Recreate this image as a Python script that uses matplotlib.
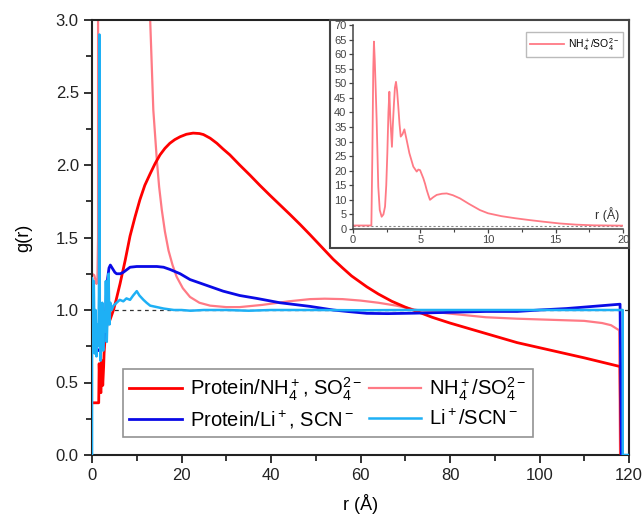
import matplotlib
matplotlib.use("Agg")
import matplotlib.pyplot as plt
from matplotlib.patches import Rectangle

plt.rcParams['font.family'] = ['Liberation Sans', 'DejaVu Sans']
plt.rcParams['mathtext.fontset'] = 'custom'
plt.rcParams['mathtext.rm'] = 'Liberation Sans'
plt.rcParams['mathtext.it'] = 'Liberation Sans:italic'
plt.rcParams['mathtext.bf'] = 'Liberation Sans:bold'

# ---- main panel data ----
red_r = [0.3, 1.5, 1.6, 1.8, 2.0, 2.2, 2.4, 2.6, 2.7, 3.0, 3.5, 4.0, 4.8, 5.4, 6.26, 7.4, 8.5,
         9.6, 10.7, 11.8, 13.0, 14.1, 15.2, 16.3, 17.4, 18.5, 19.7, 21.1, 22.6, 24.0, 24.9, 26.4,
         27.9, 29.3, 30.8, 33.0, 35.3, 37.5, 39.8, 42.0, 44.2, 46.5, 48.7, 51.3, 53.9, 56.0,
         58.0, 61.4, 64, 67, 70, 72.6, 76, 80, 85, 90, 95, 100, 105, 110, 114, 118, 118.2]
red_g = [0.36, 0.36, 0.63, 0.45, 0.43, 0.65, 0.48, 0.61, 0.70, 0.84, 0.92, 0.93, 1.00, 1.07, 1.18,
         1.34, 1.51, 1.64, 1.76, 1.86, 1.94, 2.01, 2.07, 2.115, 2.15, 2.175, 2.195, 2.212, 2.22,
         2.217, 2.21, 2.185, 2.15, 2.11, 2.07, 2.0, 1.93, 1.86, 1.79, 1.725, 1.66, 1.59, 1.52,
         1.435, 1.35, 1.29, 1.235, 1.16, 1.11, 1.06, 1.02, 0.99, 0.95, 0.91, 0.865, 0.82, 0.775,
         0.74, 0.705, 0.67, 0.64, 0.61, 0.0]

pink_r = [0.0, 0.5, 1.0, 1.2, 1.35, 1.6, 2.1, 2.7, 3.1, 5, 7, 10, 12, 13.0, 13.7, 14.5, 15.0,
          15.6, 16.3, 17.1, 18.0, 18.9, 20.3, 21.9, 24.0, 26.4, 30, 33, 38, 44, 48.7, 52, 56,
          60, 64, 68, 72.6, 80, 88, 95, 100, 105, 110, 114, 116, 117.8, 118.0]
pink_g = [1.25, 1.24, 1.18, 1.2, 1.5, 65, 4, 47, 50, 20, 12, 5.5, 3.8, 3.0, 2.38, 2.03, 1.85,
          1.69, 1.54, 1.41, 1.31, 1.23, 1.15, 1.09, 1.05, 1.03, 1.02, 1.02, 1.035, 1.06, 1.075,
          1.078, 1.075, 1.065, 1.05, 1.03, 1.0, 0.975, 0.95, 0.94, 0.935, 0.93, 0.925, 0.91,
          0.895, 0.86, 0.0]

blue_r = [0.0, 0.5, 1.0, 1.5, 2.0, 2.5, 2.9, 3.2, 3.5, 3.8, 4.1, 4.5, 5.1, 5.5, 6.3, 7.0, 8.5,
          10, 12, 14.5, 16, 17.4, 19.7, 21.9, 25.6, 29.3, 33, 36.8, 42, 48.7, 53.9, 57, 61.4, 66,
          72, 80, 88, 95, 100, 106, 112, 118, 118.3]
blue_g = [0.72, 0.71, 0.73, 0.72, 0.74, 0.75, 0.85, 1.10, 1.22, 1.29, 1.31, 1.29, 1.26, 1.25,
          1.25, 1.26, 1.295, 1.30, 1.30, 1.30, 1.295, 1.28, 1.25, 1.21, 1.17, 1.13, 1.10, 1.08,
          1.05, 1.025, 1.0, 0.99, 0.977, 0.975, 0.978, 0.984, 0.99, 0.99, 1.0, 1.01, 1.025,
          1.04, 0.0]

cyan_r = [0.0, 0.0, 0.2, 0.4, 0.6, 0.8, 1.0, 1.2, 1.4, 1.55, 1.65, 1.75, 1.9, 2.1, 2.3, 2.5, 2.7,
          2.9, 3.1, 3.3, 3.5, 3.7, 3.9, 4.1, 4.4, 4.8, 5.5, 6.2, 7.0, 7.7, 8.5, 9.2, 10.0, 10.6,
          11.5, 12.2, 13, 14.5, 16, 18.3, 20, 22, 25, 30, 35, 40, 50, 60, 70, 80, 90, 100, 110,
          118.6, 118.6, 120]
cyan_g = [0.0, 1.22, 0.95, 1.20, 0.70, 1.00, 0.68, 0.90, 0.75, 1.10, 2.90, 0.85, 0.65, 0.80, 1.05,
          0.72, 0.98, 0.85, 1.20, 0.78, 1.00, 1.25, 0.90, 1.05, 1.00, 1.03, 1.05, 1.07, 1.06, 1.08,
          1.07, 1.10, 1.13, 1.10, 1.07, 1.05, 1.03, 1.02, 1.01, 1.0, 1.0, 0.995, 1.0, 1.0, 0.995,
          1.0, 1.0, 0.998, 1.0, 1.0, 1.0, 1.0, 1.0, 1.0, 0.0, 0.0]

# ---- inset data ----
ins_r = [0, 1.38, 1.45, 1.52, 1.57, 1.63, 1.70, 1.77, 1.89, 2.0, 2.14, 2.27, 2.39, 2.48, 2.56,
         2.64, 2.71, 2.78, 2.90, 2.97, 3.05, 3.12, 3.2, 3.28, 3.37, 3.46, 3.55, 3.68, 3.82, 3.99,
         4.19, 4.48, 4.73, 4.85, 4.98, 5.1, 5.22, 5.35, 5.47, 5.6, 5.71, 5.95, 6.21, 6.6, 6.95,
         7.4, 7.93, 8.6, 9.4, 10.0, 11.0, 12.0, 13.0, 14.1, 15.3, 16.5, 17.8, 20]
ins_g = [1.2, 1.2, 25, 55, 64.3, 58, 48, 37.4, 14.5, 6.5, 4.2, 5.0, 7.7, 15, 26, 40, 47.1, 38,
         28.2, 36, 43.1, 48.5, 50.5, 47.5, 42, 36, 31.7, 32.5, 34.2, 30.5, 26, 21.4, 19.7, 20.4,
         20.2, 18.8, 17.4, 15.5, 13.4, 11.5, 10.0, 10.9, 11.7, 12.1, 12.2, 11.6, 10.5, 8.6, 6.5,
         5.4, 4.4, 3.7, 3.1, 2.5, 1.9, 1.5, 1.26, 1.15]

labels = [r'Protein/NH$_4^+$, SO$_4^{2-}$', r'NH$_4^+$/SO$_4^{2-}$',
          r'Protein/Li$^+$, SCN$^-$', r'Li$^+$/SCN$^-$']
colors = ['#ff0000', '#ff7a85', '#0a0ae6', '#1eb0f5']

fig = plt.figure(figsize=(6.44, 5.2), dpi=100)
ax = fig.add_axes([92/644, 1-455/520, 537/644, 435/520])

ax.axhline(1.0, color='#333333', lw=0.9, ls=(0, (3, 3)), zorder=1)
h_red, = ax.plot(red_r, red_g, color=colors[0], lw=2.0, label=labels[0], zorder=3)
h_pink, = ax.plot(pink_r, pink_g, color=colors[1], lw=1.6, label=labels[1], zorder=2)
h_blue, = ax.plot(blue_r, blue_g, color=colors[2], lw=2.0, label=labels[2], zorder=3)
h_cyan, = ax.plot(cyan_r, cyan_g, color=colors[3], lw=1.8, label=labels[3], zorder=4)

ax.set_xlim(0, 120)
ax.set_ylim(0, 3.0)
ax.set_xticks(range(0, 121, 20))
ax.set_xticks(range(10, 120, 20), minor=True)
ax.set_yticks([0, 0.5, 1.0, 1.5, 2.0, 2.5, 3.0])
ax.set_yticks([0.25, 0.75, 1.25, 1.75, 2.25, 2.75], minor=True)
ax.yaxis.set_major_formatter(matplotlib.ticker.FormatStrFormatter('%.1f'))
ax.tick_params(which='major', direction='out', length=6, width=1.3, labelsize=12, colors='#222222')
ax.tick_params(which='minor', direction='out', length=4, width=1.1)
for s in ax.spines.values():
    s.set_linewidth(1.5)
    s.set_color('#222222')
ax.set_xlabel('r (Å)', fontsize=13, labelpad=8)
ax.set_ylabel('g(r)', fontsize=13, labelpad=17)

leg = ax.legend([h_red, h_blue, h_pink, h_cyan], [labels[0], labels[2], labels[1], labels[3]],
                loc='lower left', bbox_to_anchor=(0.058, 0.042), ncol=2, fontsize=14.5,
                frameon=True, fancybox=False, edgecolor='#777777', handlelength=2.6,
                columnspacing=0.35, handletextpad=0.4, borderaxespad=0, labelspacing=0.3,
                borderpad=0.3)
leg.get_frame().set_linewidth(1.2)

# ---- inset ----
frame = Rectangle((330/644, 1-248/520), 299/644, 228/520, transform=fig.transFigure,
                  facecolor='white', edgecolor='#444444', lw=1.5, zorder=5)
fig.patches.append(frame)
axi = fig.add_axes([352.7/644, 1-229/520, 270.6/644, 204/520], zorder=6)
axi.patch.set_alpha(0)
axi.axhline(1.0, color='#888888', lw=0.8, ls=(0, (2, 2)))
axi.plot(ins_r, ins_g, color=colors[1], lw=1.3, label=labels[1])
axi.set_xlim(0, 20)
axi.set_ylim(0, 70)
axi.set_xticks([0, 5, 10, 15, 20])
axi.set_xticks([2.5, 7.5, 12.5, 17.5], minor=True)
axi.set_yticks(range(0, 71, 5))
axi.spines['top'].set_visible(False)
axi.spines['right'].set_visible(False)
for s in ['left', 'bottom']:
    axi.spines[s].set_linewidth(1.1)
    axi.spines[s].set_color('#444444')
axi.tick_params(which='major', direction='out', length=3, width=0.9, labelsize=8,
                colors='#444444', pad=1.5)
axi.tick_params(which='minor', direction='out', length=2, width=0.8, colors='#444444')
axi.text(0.985, 0.035, 'r (Å)', transform=axi.transAxes, ha='right', va='bottom', fontsize=9,
         color='#333333')
li = axi.legend(loc='upper right', bbox_to_anchor=(1.0, 0.965), fontsize=7.5, frameon=True,
                fancybox=False, edgecolor='#aaaaaa', handlelength=3.2, handletextpad=0.4,
                borderpad=0.4, borderaxespad=0)
li.get_frame().set_linewidth(1.0)

fig.savefig('out.png', dpi=100)
